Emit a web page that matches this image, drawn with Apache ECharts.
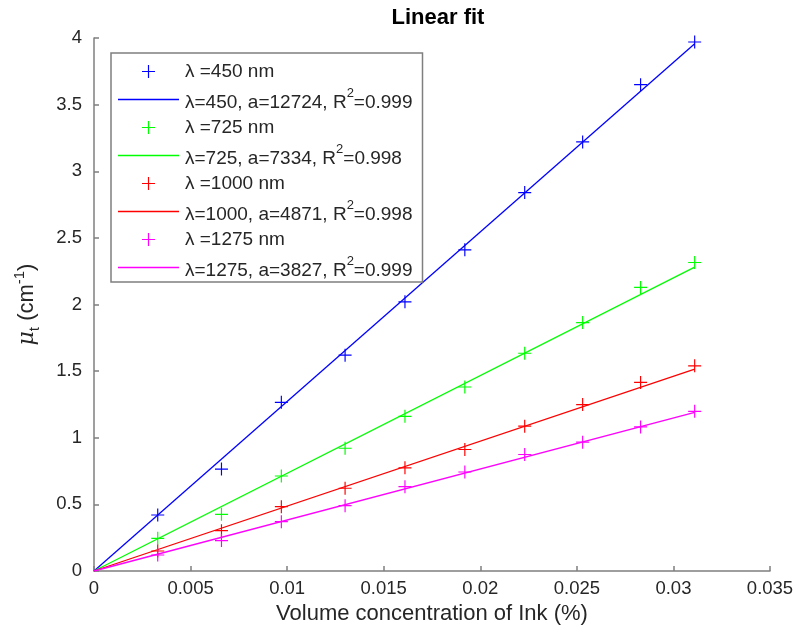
<!DOCTYPE html>
<html>
<head>
<meta charset="utf-8">
<script src="https://cdn.jsdelivr.net/npm/echarts@6/dist/echarts.min.js"></script>
<style>html,body{margin:0;padding:0;background:#fff}#c{width:799px;height:639px}</style>
</head>
<body>
<div id="c"></div>
<script>
// ---- data ----
const concentration = [0.0033, 0.0066, 0.0097, 0.0130, 0.0161, 0.0192, 0.0223, 0.0253, 0.0283, 0.0311];
const mu450  = [0.42, 0.765, 1.266, 1.62, 2.02, 2.41, 2.84, 3.22, 3.65, 3.97];
const mu725  = [0.245, 0.425, 0.713, 0.921, 1.161, 1.381, 1.634, 1.864, 2.128, 2.315];
const mu1000 = [0.150, 0.303, 0.483, 0.621, 0.774, 0.912, 1.087, 1.249, 1.415, 1.540];
const mu1275 = [0.120, 0.228, 0.370, 0.490, 0.633, 0.743, 0.874, 0.967, 1.081, 1.198];
const wavelengths = ['450', '725', '1000', '1275'];
const fitSlopes = ['12724', '7334', '4871', '3827'];
const fitR2 = ['0.999', '0.998', '0.998', '0.999'];
// fitted lines: from origin to the last concentration, end values
const fitStartX = 0, fitStartY = 0;
const fitEndX = 0.0311;
const fitEndY = [3.957, 2.281, 1.515, 1.190];
const xTicks = [0, 0.005, 0.01, 0.015, 0.02, 0.025, 0.03, 0.035];
const yTicks = [0, 0.5, 1, 1.5, 2, 2.5, 3, 3.5, 4];

const colors = ['#0000ff', '#00ff00', '#ff0000', '#ff00ff'];
const measured = [mu450, mu725, mu1000, mu1275];
const plus = 'path://M0,4.55H10V5.45H0Z M4.55,0H5.45V10H4.55Z';
const lineIcon = 'path://M0,0H61V1.4H0Z';

const series = [];
const legendData = [];
const fitNames = {};
wavelengths.forEach((w, i) => {
  const mName = 'λ =' + w + ' nm';
  const fName = 'λ=' + w + ', a=' + fitSlopes[i] + ', R2=' + fitR2[i];
  fitNames[fName] = {w: w, a: fitSlopes[i], r: fitR2[i]};
  legendData.push({name: mName});
  legendData.push({name: fName, icon: lineIcon, itemStyle: {color: colors[i]}});
  series.push({
    name: mName, type: 'scatter',
    data: concentration.map((x, k) => [x, measured[i][k]]),
    symbol: plus, symbolSize: 13, symbolKeepAspect: true,
    itemStyle: {color: colors[i], opacity: 1},
    emphasis: {disabled: true}, z: 3
  });
  series.push({
    name: fName, type: 'line',
    data: [[fitStartX, fitStartY], [fitEndX, fitEndY[i]]],
    symbol: 'none', showSymbol: false,
    lineStyle: {color: colors[i], width: 1.3},
    itemStyle: {color: colors[i]},
    emphasis: {disabled: true}, z: 2
  });
});

const chart = echarts.init(document.getElementById('c'), null, {renderer: 'canvas'});
const font = '"Liberation Sans", Arial, Helvetica, sans-serif';
const txt = '#262626';
chart.setOption({
  animation: false,
  backgroundColor: '#fff',
  title: {
    text: 'Linear fit', left: 433, top: 2, textAlign: 'center',
    textStyle: {fontFamily: font, fontSize: 22, fontWeight: 'bold', color: '#000'}
  },
  grid: {left: 94, right: 29, top: 38, bottom: 68, containLabel: false},
  legend: {
    data: legendData, orient: 'vertical', left: 111, top: 53,
    padding: [8, 10, 2, 7], itemGap: 5, itemWidth: 61, itemHeight: 13,
    backgroundColor: '#fff', borderColor: '#7f7f7f', borderWidth: 1.5, borderRadius: 0,
    selectedMode: false,
    textStyle: {fontFamily: font, fontSize: 19, color: txt, lineHeight: 21, padding: [0, 0, 0, 1],
      rich: {
        a: {fontFamily: font, fontSize: 19, color: txt, lineHeight: 25, verticalAlign: 'bottom'},
        s: {fontFamily: font, fontSize: 13, color: txt, lineHeight: 25, verticalAlign: 'top'}
      }},
    formatter: function (name) {
      const f = fitNames[name];
      if (f) return '{a|λ=' + f.w + ', a=' + f.a + ', R}{s|2}{a|=' + f.r + '}';
      return name;
    }
  },
  xAxis: {
    type: 'value', min: xTicks[0], max: xTicks[xTicks.length - 1], interval: xTicks[1] - xTicks[0],
    name: 'Volume concentration of Ink (%)', nameLocation: 'middle', nameGap: 29,
    nameTextStyle: {fontFamily: font, fontSize: 22, color: txt},
    axisLine: {show: true, lineStyle: {color: '#7f7f7f', width: 1.5}},
    axisTick: {show: true, inside: true, length: 5, lineStyle: {color: '#7f7f7f', width: 1.5}},
    axisLabel: {fontFamily: font, fontSize: 18.5, color: txt, margin: 8,
      formatter: v => String(parseFloat(v.toFixed(4)))},
    splitLine: {show: false}
  },
  yAxis: {
    type: 'value', min: yTicks[0], max: yTicks[yTicks.length - 1], interval: yTicks[1] - yTicks[0],
    name: '{m|μ}{sub|t}{n| (cm}{sup|-1}{n|)}', nameLocation: 'middle', nameGap: 52, nameRotate: 90,
    nameTextStyle: {fontFamily: font, fontSize: 22, color: txt,
      rich: {
        m: {fontFamily: '"DejaVu Serif", serif', fontStyle: 'italic', fontSize: 22, color: txt, lineHeight: 30, verticalAlign: 'middle'},
        sub: {fontFamily: font, fontSize: 15, color: txt, lineHeight: 30, verticalAlign: 'bottom'},
        n: {fontFamily: font, fontSize: 22, color: txt, lineHeight: 30, verticalAlign: 'middle'},
        sup: {fontFamily: font, fontSize: 15, color: txt, lineHeight: 30, verticalAlign: 'top'}
      }},
    axisLine: {show: true, lineStyle: {color: '#7f7f7f', width: 1.5}},
    axisTick: {show: true, inside: true, length: 5, lineStyle: {color: '#7f7f7f', width: 1.5}},
    axisLabel: {fontFamily: font, fontSize: 18.5, color: txt, margin: 12},
    splitLine: {show: false}
  },
  series: series
});
</script>
</body>
</html>
